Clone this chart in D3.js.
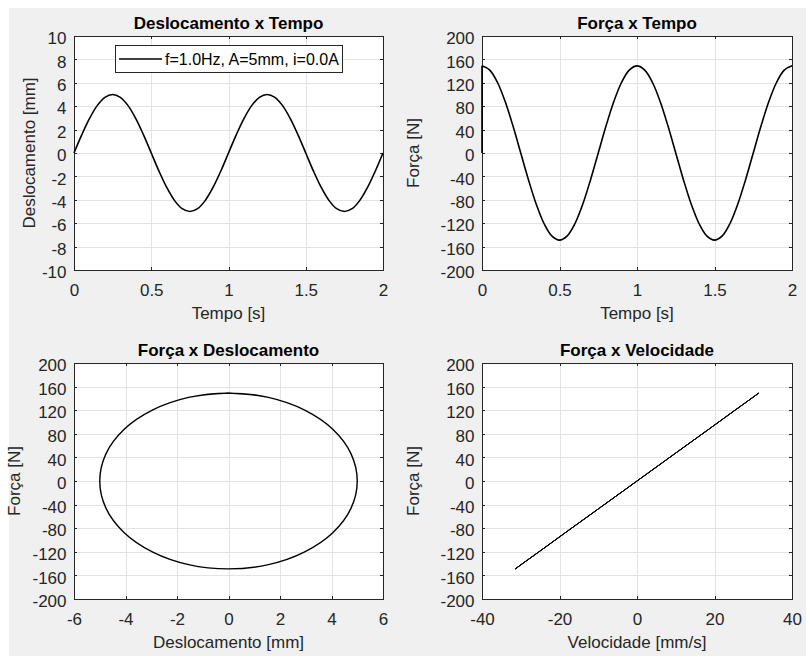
<!DOCTYPE html>
<html>
<head>
<meta charset="utf-8">
<script src="https://cdn.jsdelivr.net/npm/d3@7"></script>
<style>
  body { margin: 0; background: #ffffff; }
  text { font-family: "Liberation Sans", Arial, sans-serif; }
</style>
</head>
<body>
<div id="fig"></div>
<script>
const time = [0, 0.05, 0.1, 0.15, 0.2, 0.25, 0.3, 0.35, 0.4, 0.45, 0.5, 0.55, 0.6, 0.65, 0.7, 0.75, 0.8, 0.85, 0.9, 0.95,
  1, 1.05, 1.1, 1.15, 1.2, 1.25, 1.3, 1.35, 1.4, 1.45, 1.5, 1.55, 1.6, 1.65, 1.7, 1.75, 1.8, 1.85, 1.9, 1.95, 2];
const displacement = [0, 1.55, 2.94, 4.05, 4.76, 5.0, 4.76, 4.05, 2.94, 1.55, 0, -1.55, -2.94, -4.05, -4.76, -5.0, -4.76, -4.05, -2.94, -1.55,
  0, 1.55, 2.94, 4.05, 4.76, 5.0, 4.76, 4.05, 2.94, 1.55, 0, -1.55, -2.94, -4.05, -4.76, -5.0, -4.76, -4.05, -2.94, -1.55, 0];
const force = [149, 141.7, 120.5, 87.6, 46.0, 0, -46.0, -87.6, -120.5, -141.7, -149, -141.7, -120.5, -87.6, -46.0, 0, 46.0, 87.6, 120.5, 141.7,
  149, 141.7, 120.5, 87.6, 46.0, 0, -46.0, -87.6, -120.5, -141.7, -149, -141.7, -120.5, -87.6, -46.0, 0, 46.0, 87.6, 120.5, 141.7, 149];
const velocity = [31.4, 29.9, 25.4, 18.5, 9.7, 0, -9.7, -18.5, -25.4, -29.9, -31.4, -29.9, -25.4, -18.5, -9.7, 0, 9.7, 18.5, 25.4, 29.9,
  31.4, 29.9, 25.4, 18.5, 9.7, 0, -9.7, -18.5, -25.4, -29.9, -31.4, -29.9, -25.4, -18.5, -9.7, 0, 9.7, 18.5, 25.4, 29.9, 31.4];
// first recorded force sample (t = 0) before the jump
const forceStart = [[0, 0], [0, 149]];

const timeTicks = [0, 0.5, 1, 1.5, 2];
const dispTicks = [-10, -8, -6, -4, -2, 0, 2, 4, 6, 8, 10];
const dispXTicks = [-6, -4, -2, 0, 2, 4, 6];
const forceTicks = [-200, -160, -120, -80, -40, 0, 40, 80, 120, 160, 200];
const velTicks = [-40, -20, 0, 20, 40];
const legendLabel = 'f=1.0Hz, A=5mm, i=0.0A';

const W = 806, H = 656;
const svg = d3.select('#fig').append('svg').attr('width', W).attr('height', H);
svg.append('rect').attr('x', 9).attr('y', 8).attr('width', W - 9).attr('height', H - 8).attr('fill', '#f0f0f0');

const AX = '#262626';

const drawPanel = (cfg) => {
  const {left, top, width, height, xDomain, yDomain, xTicks, yTicks, title, xLabel, yLabel, yLabelX} = cfg;
  const x = d3.scaleLinear().domain(xDomain).range([0, width]);
  const y = d3.scaleLinear().domain(yDomain).range([height, 0]);
  const g = svg.append('g').attr('transform', `translate(${left}, ${top})`);

  g.append('rect').attr('width', width).attr('height', height).attr('fill', '#ffffff');

  // grid
  g.append('g').attr('class', 'grid')
    .call(d3.axisBottom(x).tickValues(xTicks).tickSize(height).tickFormat(''))
    .call(s => s.select('.domain').remove());
  g.append('g').attr('class', 'grid')
    .call(d3.axisLeft(y).tickValues(yTicks).tickSize(-width).tickFormat(''))
    .call(s => s.select('.domain').remove());
  g.selectAll('.grid line').attr('stroke', '#e3e3e3').attr('shape-rendering', 'crispEdges');

  const fmt = d => String(d);
  const xAxis = g.append('g').attr('transform', `translate(0, ${height})`)
    .call(d3.axisBottom(x).tickValues(xTicks).tickSizeInner(-3).tickSizeOuter(0).tickPadding(13.5).tickFormat(fmt));
  const yAxis = g.append('g')
    .call(d3.axisLeft(y).tickValues(yTicks).tickSizeInner(-3).tickSizeOuter(0).tickPadding(7.5).tickFormat(fmt));
  const xTop = g.append('g')
    .call(d3.axisTop(x).tickValues(xTicks).tickSizeInner(-3).tickSizeOuter(0).tickFormat(''));
  const yRight = g.append('g').attr('transform', `translate(${width}, 0)`)
    .call(d3.axisRight(y).tickValues(yTicks).tickSizeInner(-3).tickSizeOuter(0).tickFormat(''));

  [xAxis, yAxis, xTop, yRight].forEach(a => {
    a.selectAll('path, line').attr('stroke', AX).attr('shape-rendering', 'crispEdges');
    a.selectAll('text').attr('fill', AX).attr('font-size', 17)
      .attr('font-family', '"Liberation Sans", Arial, sans-serif');
  });
  yAxis.selectAll('text').attr('dy', '0.45em');

  g.append('text')
    .attr('x', width / 2).attr('y', -7.5)
    .attr('text-anchor', 'middle').attr('font-size', 17).attr('font-weight', 'bold')
    .attr('fill', '#000').text(title);

  g.append('text')
    .attr('x', width / 2).attr('y', height + 48.5)
    .attr('text-anchor', 'middle').attr('font-size', 17)
    .attr('fill', AX).text(xLabel);

  g.append('text')
    .attr('transform', `translate(${yLabelX}, ${height / 2}) rotate(-90)`)
    .attr('text-anchor', 'middle').attr('font-size', 17)
    .attr('fill', AX).text(yLabel);

  const plot = g.append('g');
  return {x, y, g, plot};
};

// Deslocamento x Tempo
const p1 = drawPanel({
  left: 74, top: 36, width: 309, height: 234,
  xDomain: [0, 2], yDomain: [-10, 10], xTicks: timeTicks, yTicks: dispTicks,
  title: 'Deslocamento x Tempo', xLabel: 'Tempo [s]', yLabel: 'Deslocamento [mm]', yLabelX: -39
});
p1.plot.append('path')
  .datum(time.map((t, i) => [t, displacement[i]]))
  .attr('fill', 'none').attr('stroke', '#000').attr('stroke-width', 1.6)
  .attr('d', d3.line().x(d => p1.x(d[0])).y(d => p1.y(d[1])).curve(d3.curveCatmullRom));

// legend
const lg = p1.g.append('g').attr('transform', 'translate(41, 9)');
lg.append('rect').attr('x', 0.5).attr('y', 0.5).attr('width', 227).attr('height', 27)
  .attr('fill', '#fff').attr('stroke', AX).attr('stroke-width', 1);
lg.append('line').attr('x1', 4).attr('x2', 47).attr('y1', 14).attr('y2', 14)
  .attr('stroke', '#000').attr('stroke-width', 1.6);
lg.append('text').attr('x', 50).attr('y', 19.8).attr('font-size', 16).attr('fill', '#000').text(legendLabel);

// Força x Tempo
const p2 = drawPanel({
  left: 482, top: 36, width: 310, height: 234,
  xDomain: [0, 2], yDomain: [-200, 200], xTicks: timeTicks, yTicks: forceTicks,
  title: 'Força x Tempo', xLabel: 'Tempo [s]', yLabel: 'Força [N]', yLabelX: -63
});
p2.plot.append('path')
  .datum(forceStart)
  .attr('fill', 'none').attr('stroke', '#000').attr('stroke-width', 1.6)
  .attr('d', d3.line().x(d => p2.x(d[0])).y(d => p2.y(d[1])));
p2.plot.append('path')
  .datum(time.map((t, i) => [t, force[i]]))
  .attr('fill', 'none').attr('stroke', '#000').attr('stroke-width', 1.6)
  .attr('d', d3.line().x(d => p2.x(d[0])).y(d => p2.y(d[1])).curve(d3.curveCatmullRom));

// Força x Deslocamento
const p3 = drawPanel({
  left: 74, top: 363, width: 309, height: 236,
  xDomain: [-6, 6], yDomain: [-200, 200], xTicks: dispXTicks, yTicks: forceTicks,
  title: 'Força x Deslocamento', xLabel: 'Deslocamento [mm]', yLabel: 'Força [N]', yLabelX: -54
});
p3.plot.append('path')
  .datum(displacement.map((d, i) => [d, force[i]]))
  .attr('fill', 'none').attr('stroke', '#000').attr('stroke-width', 1.4)
  .attr('d', d3.line().x(d => p3.x(d[0])).y(d => p3.y(d[1])).curve(d3.curveCatmullRom));

// Força x Velocidade
const p4 = drawPanel({
  left: 482, top: 363, width: 310, height: 236,
  xDomain: [-40, 40], yDomain: [-200, 200], xTicks: velTicks, yTicks: forceTicks,
  title: 'Força x Velocidade', xLabel: 'Velocidade [mm/s]', yLabel: 'Força [N]', yLabelX: -63
});
p4.plot.append('path')
  .datum(velocity.map((v, i) => [v, force[i]]))
  .attr('fill', 'none').attr('stroke', '#000').attr('stroke-width', 1)
  .attr('d', d3.line().x(d => p4.x(d[0])).y(d => p4.y(d[1])));
</script>
</body>
</html>
